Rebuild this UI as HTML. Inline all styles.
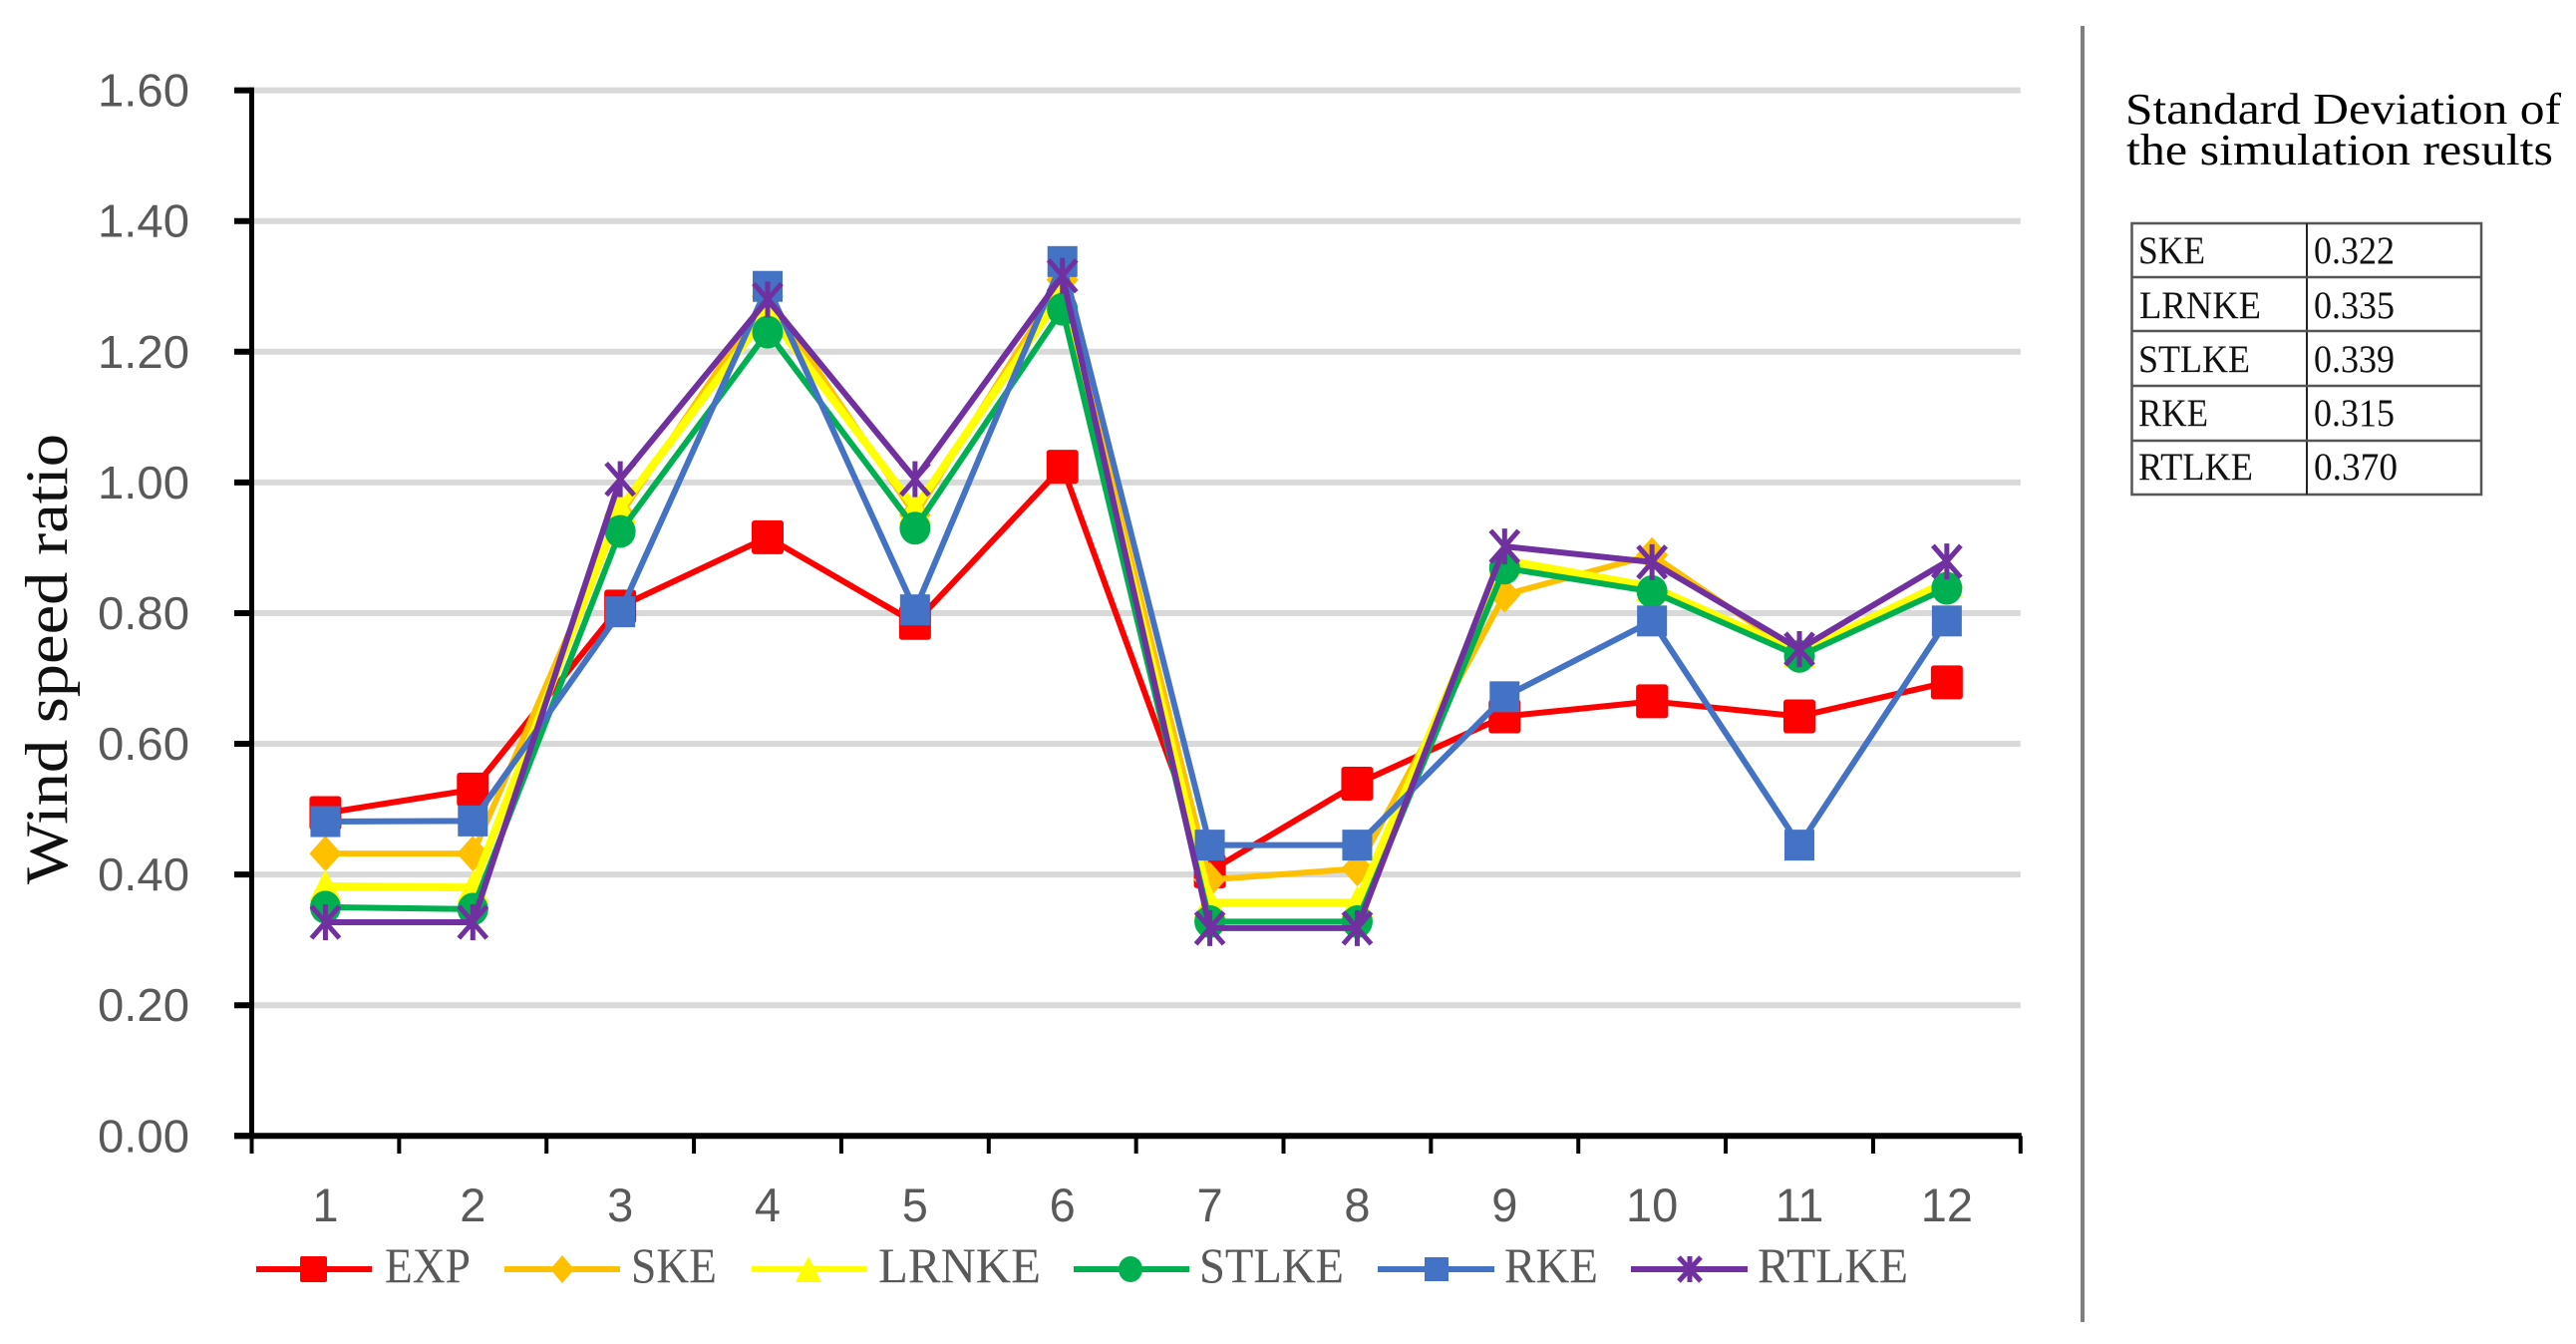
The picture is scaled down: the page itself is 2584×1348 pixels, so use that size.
<!DOCTYPE html>
<html lang="en">
<head>
<meta charset="utf-8">
<title>Wind speed ratio chart</title>
<style>
  html, body { margin: 0; padding: 0; background: #ffffff; width: 2584px; height: 1348px; overflow: hidden; }
  svg { display: block; }
  .tick { font-family: "Liberation Sans", sans-serif; fill: #595959; }
  .serif { font-family: "Liberation Serif", serif; }
  .legend-text { font-family: "Liberation Serif", serif; font-size: 50px; fill: #595959; }
  .table-text { font-family: "Liberation Serif", serif; font-size: 39px; fill: #111111; }
</style>
</head>
<body>
<svg id="chart" width="2584" height="1348" viewBox="0 0 2584 1348" xmlns="http://www.w3.org/2000/svg">
  <rect x="0" y="0" width="2584" height="1348" fill="#ffffff"/>
  <g id="grid"></g>
  <g id="axes"></g>
  <g id="series"></g>

  <text class="serif" font-size="60" fill="#111111" textLength="452" lengthAdjust="spacingAndGlyphs" transform="translate(67,887) rotate(-90)">Wind speed ratio</text>

  <g>
    <g>
      <line x1="257" x2="373" y1="1273" y2="1273" stroke="#ff0000" stroke-width="6"/>
      <rect x="301" y="1260" width="27" height="26" rx="2" fill="#ff0000"/>
      <text class="legend-text" x="386" y="1286" textLength="86" lengthAdjust="spacingAndGlyphs">EXP</text>
    </g>
    <g>
      <line x1="506" x2="622" y1="1273" y2="1273" stroke="#ffc000" stroke-width="6"/>
      <polygon points="564,1259 576,1273 564,1287 552,1273" fill="#ffc000"/>
      <text class="legend-text" x="633" y="1286" textLength="86" lengthAdjust="spacingAndGlyphs">SKE</text>
    </g>
    <g>
      <line x1="754" x2="869" y1="1273" y2="1273" stroke="#ffff00" stroke-width="6"/>
      <polygon points="811,1260 824,1286 798,1286" fill="#ffff00"/>
      <text class="legend-text" x="881" y="1286" textLength="163" lengthAdjust="spacingAndGlyphs">LRNKE</text>
    </g>
    <g>
      <line x1="1077" x2="1193" y1="1273" y2="1273" stroke="#00b050" stroke-width="6"/>
      <ellipse cx="1134" cy="1273" rx="12" ry="13" fill="#00b050"/>
      <text class="legend-text" x="1203" y="1286" textLength="145" lengthAdjust="spacingAndGlyphs">STLKE</text>
    </g>
    <g>
      <line x1="1382" x2="1499" y1="1273" y2="1273" stroke="#4472c4" stroke-width="6"/>
      <rect x="1429" y="1261" width="24" height="24" fill="#4472c4"/>
      <text class="legend-text" x="1509" y="1286" textLength="94" lengthAdjust="spacingAndGlyphs">RKE</text>
    </g>
    <g>
      <line x1="1636" x2="1753" y1="1273" y2="1273" stroke="#7030a0" stroke-width="6"/>
      <path d="M1684 1261 L1706 1285 M1706 1261 L1684 1285 M1695 1260 L1695 1286" stroke="#7030a0" stroke-width="5" fill="none"/>
      <text class="legend-text" x="1763" y="1286" textLength="151" lengthAdjust="spacingAndGlyphs">RTLKE</text>
    </g>
  </g>

  <rect x="2087" y="26" width="4" height="1300" fill="#7f7f7f"/>

  <g>
    <text class="serif" x="2132" y="124" font-size="44" fill="#000000" textLength="437" lengthAdjust="spacingAndGlyphs">Standard Deviation of</text>
    <text class="serif" x="2133" y="165" font-size="44" fill="#000000" textLength="428" lengthAdjust="spacingAndGlyphs">the simulation results</text>
  </g>

  <g stroke="#555555" stroke-width="2.5" fill="none">
    <rect x="2138.5" y="224" width="350.5" height="272"/>
    <line x1="2314" x2="2314" y1="224" y2="496" stroke="#222222" stroke-width="2"/>
    <line x1="2138.5" x2="2489" y1="278" y2="278"/>
    <line x1="2138.5" x2="2489" y1="332" y2="332"/>
    <line x1="2138.5" x2="2489" y1="387" y2="387"/>
    <line x1="2138.5" x2="2489" y1="442" y2="442"/>
  </g>
  <g>
    <text class="table-text" x="2145" y="264" textLength="67" lengthAdjust="spacingAndGlyphs">SKE</text>
    <text class="table-text" x="2321" y="264" textLength="81" lengthAdjust="spacingAndGlyphs">0.322</text>
  </g>
  <g>
    <text class="table-text" x="2146" y="319" textLength="122" lengthAdjust="spacingAndGlyphs">LRNKE</text>
    <text class="table-text" x="2321" y="319" textLength="81" lengthAdjust="spacingAndGlyphs">0.335</text>
  </g>
  <g>
    <text class="table-text" x="2145" y="373" textLength="112" lengthAdjust="spacingAndGlyphs">STLKE</text>
    <text class="table-text" x="2321" y="373" textLength="81" lengthAdjust="spacingAndGlyphs">0.339</text>
  </g>
  <g>
    <text class="table-text" x="2145" y="427" textLength="70" lengthAdjust="spacingAndGlyphs">RKE</text>
    <text class="table-text" x="2321" y="427" textLength="81" lengthAdjust="spacingAndGlyphs">0.315</text>
  </g>
  <g>
    <text class="table-text" x="2145" y="481" textLength="115" lengthAdjust="spacingAndGlyphs">RTLKE</text>
    <text class="table-text" x="2321" y="481" textLength="84" lengthAdjust="spacingAndGlyphs">0.370</text>
  </g>
</svg>

<script>
const categories = ['1', '2', '3', '4', '5', '6', '7', '8', '9', '10', '11', '12'];
const yTickValues = [0, 0.2, 0.4, 0.6, 0.8, 1.0, 1.2, 1.4, 1.6];
const yTickLabels = ['0.00', '0.20', '0.40', '0.60', '0.80', '1.00', '1.20', '1.40', '1.60'];
const expValues = [0.494, 0.530, 0.810, 0.916, 0.785, 1.024, 0.405, 0.539, 0.642, 0.665, 0.642, 0.694];
const skeValues = [0.432, 0.432, 0.950, 1.285, 0.950, 1.310, 0.392, 0.409, 0.828, 0.889, 0.735, 0.840];
const lrnkeValues = [0.382, 0.380, 0.960, 1.260, 0.960, 1.290, 0.357, 0.357, 0.881, 0.840, 0.740, 0.848];
const stlkeValues = [0.350, 0.347, 0.925, 1.230, 0.930, 1.265, 0.328, 0.328, 0.869, 0.833, 0.734, 0.838];
const rkeValues = [0.481, 0.482, 0.802, 1.300, 0.805, 1.338, 0.445, 0.445, 0.672, 0.788, 0.445, 0.788];
const rtlkeValues = [0.327, 0.327, 1.005, 1.280, 1.005, 1.316, 0.318, 0.318, 0.902, 0.878, 0.745, 0.879];

const SVG_NS = 'http://www.w3.org/2000/svg';
const plotLeft = 252.5, plotRight = 2026.8, plotBottom = 1139.3, plotTop = 90.6, yMax = 1.6;

function xScale(i) {
  return plotLeft + (plotRight - plotLeft) * (i + 0.5) / categories.length;
}
function xEdge(i) {
  return plotLeft + (plotRight - plotLeft) * i / categories.length;
}
function yScale(v) {
  return plotBottom - (plotBottom - plotTop) * v / yMax;
}
function make(parent, tag, attrs) {
  const el = document.createElementNS(SVG_NS, tag);
  for (const k in attrs) el.setAttribute(k, attrs[k]);
  parent.appendChild(el);
  return el;
}

const gridGroup = document.getElementById('grid');
const axesGroup = document.getElementById('axes');
const seriesGroup = document.getElementById('series');

yTickValues.forEach(function (v, i) {
  const y = yScale(v);
  if (v > 0) {
    const grid = make(gridGroup, 'line', { x1: plotLeft, x2: plotRight, y1: y, y2: y, stroke: '#d9d9d9', 'stroke-width': 6 });
    
    
  }
  const tick = make(axesGroup, 'line', { x1: 235, x2: plotLeft, y1: y, y2: y, stroke: '#000000', 'stroke-width': 6 });
  
  
  const label = make(axesGroup, 'text', { x: 190, y: y + 16, 'text-anchor': 'end', 'font-size': 46, textLength: 92, lengthAdjust: 'spacingAndGlyphs', class: 'tick' });
  label.textContent = yTickLabels[i];
  
  
});

for (let i = 0; i <= categories.length; i++) {
  const xt = make(axesGroup, 'line', { x1: xEdge(i), x2: xEdge(i), y1: plotBottom, y2: 1157, stroke: '#000000', 'stroke-width': 4 });
  
  
}

categories.forEach(function (c, i) {
  const label = make(axesGroup, 'text', { x: xScale(i), y: 1225, 'text-anchor': 'middle', 'font-size': 47, class: 'tick' });
  label.textContent = c;
  
  
});

const yAxis = make(axesGroup, 'line', { x1: plotLeft, x2: plotLeft, y1: plotTop - 3, y2: plotBottom + 3, stroke: '#000000', 'stroke-width': 5 });


const xAxis = make(axesGroup, 'line', { x1: 235, x2: plotRight + 1, y1: plotBottom, y2: plotBottom, stroke: '#000000', 'stroke-width': 6 });



function drawMarker(group, kind, color, x, y) {
  if (kind === 'square') {
    return make(group, 'rect', { x: x - 16, y: y - 17, width: 32, height: 34, rx: 3, fill: color });
  }
  if (kind === 'smallsquare') {
    return make(group, 'rect', { x: x - 15, y: y - 15.5, width: 30, height: 31, fill: color });
  }
  if (kind === 'diamond') {
    return make(group, 'polygon', { points: [x, y - 18, x + 16, y, x, y + 18, x - 16, y].join(','), fill: color });
  }
  if (kind === 'triangle') {
    return make(group, 'polygon', { points: [x, y - 17, x + 16, y + 15, x - 16, y + 15].join(','), fill: color });
  }
  if (kind === 'circle') {
    return make(group, 'ellipse', { cx: x, cy: y, rx: 15.5, ry: 16.5, fill: color });
  }
  const d = 'M' + (x - 14) + ' ' + (y - 16) + ' L' + (x + 14) + ' ' + (y + 16) +
            ' M' + (x + 14) + ' ' + (y - 16) + ' L' + (x - 14) + ' ' + (y + 16) +
            ' M' + x + ' ' + (y - 18) + ' L' + x + ' ' + (y + 18);
  return make(group, 'path', { d: d, stroke: color, 'stroke-width': 5, fill: 'none' });
}

function drawSeries(name, values, color, width, kind) {
  const g = make(seriesGroup, 'g', {});
  
  
  const pts = values.map(function (v, i) { return xScale(i) + ',' + yScale(v); }).join(' ');
  const line = make(g, 'polyline', { points: pts, fill: 'none', stroke: color, 'stroke-width': width, 'stroke-linejoin': 'round' });
  
  
  values.forEach(function (v, i) {
    const m = drawMarker(g, kind, color, xScale(i), yScale(v));
    
    
  });
}

drawSeries('exp', expValues, '#ff0000', 6, 'square');
drawSeries('ske', skeValues, '#ffc000', 6, 'diamond');
drawSeries('lrnke', lrnkeValues, '#ffff00', 8, 'triangle');
drawSeries('stlke', stlkeValues, '#00b050', 6, 'circle');
drawSeries('rke', rkeValues, '#4472c4', 6, 'smallsquare');
drawSeries('rtlke', rtlkeValues, '#7030a0', 6, 'star');
</script>
</body>
</html>
